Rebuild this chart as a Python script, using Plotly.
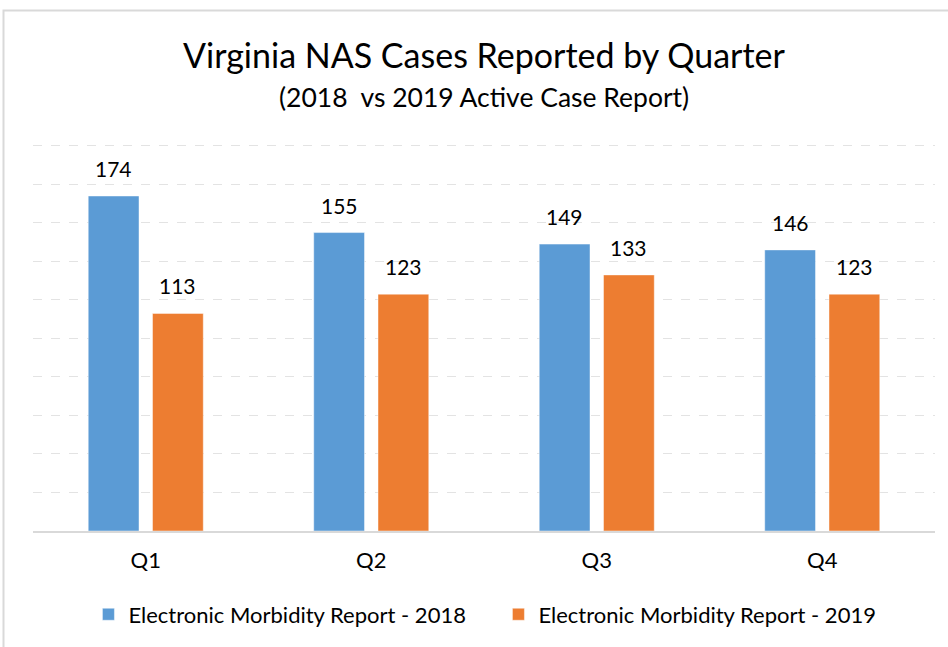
import plotly.graph_objects as go

quarters = ["Q1", "Q2", "Q3", "Q4"]
series_2018 = [174, 155, 149, 146]
series_2019 = [113, 123, 133, 123]
name_2018 = "Electronic Morbidity Report - 2018"
name_2019 = "Electronic Morbidity Report - 2019"
title_text = "Virginia NAS Cases Reported by Quarter"
subtitle_text = "(2018  vs 2019 Active Case Report)"

BLUE = "#5B9BD5"
ORANGE = "#ED7D31"
FONT = "Lato"

fig = go.Figure()
fig.add_trace(go.Bar(x=quarters, y=series_2018, name=name_2018,
                     marker=dict(color=BLUE, line=dict(color="rgba(255,255,255,0.45)", width=1))))
fig.add_trace(go.Bar(x=quarters, y=series_2019, name=name_2019,
                     marker=dict(color=ORANGE, line=dict(color="rgba(255,255,255,0.45)", width=1))))

annotations = []
for q, v in zip(quarters, series_2018):
    annotations.append(dict(x=q, y=v, xref="x", yref="y", text=str(v), showarrow=False,
                            xshift=-32, yshift=13, yanchor="bottom",
                            font=dict(family=FONT, size=21, color="#000000")))
for q, v in zip(quarters, series_2019):
    annotations.append(dict(x=q, y=v, xref="x", yref="y", text=str(v), showarrow=False,
                            xshift=32, yshift=13, yanchor="bottom",
                            font=dict(family=FONT, size=21, color="#000000")))

annotations.append(dict(x=0.5, y=1.23, xref="paper", yref="paper", text=title_text,
                        showarrow=False, yanchor="middle",
                        font=dict(family=FONT, size=34, color="#000000")))
annotations.append(dict(x=0.5, y=1.122, xref="paper", yref="paper", text=subtitle_text,
                        showarrow=False, yanchor="middle",
                        font=dict(family=FONT, size=26.5, color="#000000")))

fig.update_layout(
    width=948, height=647,
    margin=dict(l=33, r=13, t=144, b=116),
    paper_bgcolor="white", plot_bgcolor="white",
    barmode="group", bargap=0.43, bargroupgap=0.21,
    font=dict(family=FONT, size=21, color="#000000"),
    showlegend=True,
    legend=dict(orientation="h", x=0.516, xanchor="center", y=-0.2156, yanchor="middle",
                entrywidth=365, entrywidthmode="pixels",
                font=dict(family=FONT, size=22, color="#000000"), traceorder="normal"),
    annotations=annotations,
    shapes=[dict(type="rect", xref="paper", yref="paper",
                 x0=-0.0327, x1=1.03, y0=-0.35, y1=1.345,
                 line=dict(color="#D9D9D9", width=2), fillcolor="rgba(0,0,0,0)", layer="below")],
)
fig.update_xaxes(showline=True, linecolor="#D9D9D9", linewidth=2, showgrid=False,
                 ticks="", ticklabelstandoff=9,
                 tickfont=dict(family=FONT, size=22, color="#000000"))
fig.update_yaxes(range=[0, 201], tick0=0, dtick=20, showticklabels=False, showgrid=True,
                 gridcolor="#E3E3E3", griddash="dash", gridwidth=1, zeroline=False,
                 showline=False)

fig.write_html("out.html", config={"displayModeBar": False},
               post_script="document.body.style.margin='0';document.body.style.padding='0';document.body.style.overflow='hidden';")
